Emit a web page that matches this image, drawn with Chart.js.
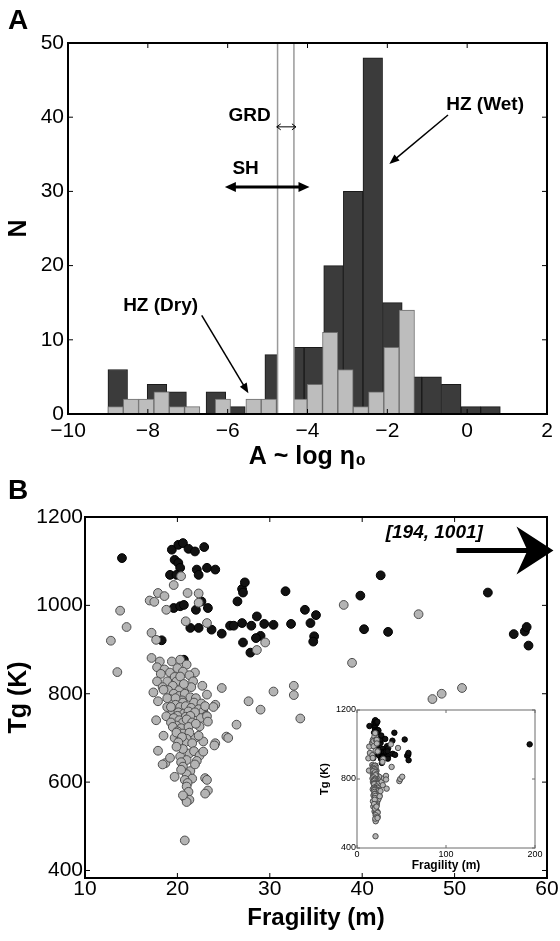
<!DOCTYPE html>
<html>
<head>
<meta charset="utf-8">
<script src="https://cdn.jsdelivr.net/npm/chart.js@4.4.1/dist/chart.umd.min.js"></script>
<style>
  html, body { margin: 0; padding: 0; background: #fff; }
  #page { position: relative; width: 560px; height: 941px; overflow: hidden; }
  .box { position: absolute; }
  .panel { position: absolute; font: bold 28px 'Liberation Sans', Arial, sans-serif; line-height: 1; }
</style>
</head>
<body>
<div id="page">
  <div class="box" style="left:0;top:0"><canvas id="histChart" width="560" height="470"></canvas></div>
  <div class="box" style="left:0;top:470px"><canvas id="scatterChart" width="560" height="471"></canvas></div>
  <div class="box" style="left:310px;top:700px"><canvas id="insetChart" width="235" height="175"></canvas></div>
  <div class="panel" style="left:8px;top:6px">A</div>
  <div class="panel" style="left:8px;top:476px">B</div>
</div>
<script>
const FONT = "'Liberation Sans', Arial, Helvetica, sans-serif";
Chart.defaults.font.family = FONT;
Chart.defaults.color = '#000';

// panel A: histograms of A ~ log eta0
const wetCenters = [-8.754, -8.262, -7.771, -7.279, -6.788, -6.296, -5.805, -5.313, -4.822, -4.331,
                    -3.839, -3.348, -2.856, -2.365, -1.873, -1.382, -0.890, -0.399, 0.093, 0.585];
const wetCounts = [6, 0, 4, 3, 0, 3, 1, 0, 8, 9, 9, 20, 30, 48, 15, 5, 5, 4, 1, 1];
const dryCenters = [-8.808, -8.424, -8.040, -7.656, -7.272, -6.888, -6.504, -6.120, -5.736, -5.352,
                    -4.968, -4.584, -4.200, -3.816, -3.432, -3.048, -2.664, -2.280, -1.896, -1.512];
const dryCounts = [1, 2, 2, 3, 1, 1, 0, 2, 0, 2, 2, 0, 2, 4, 11, 6, 1, 3, 9, 14];
const histXTicks = [-10, -8, -6, -4, -2, 0, 2];
const histYTicks = [0, 10, 20, 30, 40, 50];
const grdBand = [-4.75, -4.34];

// panel B: Tg against fragility
const grayPoints = [
  [12.8, 920], [13.5, 849], [13.8, 988], [14.5, 951],
  [17.0, 1011], [17.5, 1008], [17.9, 1028], [18.6, 1021], [18.8, 990], [19.6, 1046], [20.4, 1066],
  [21.1, 1028], [22.3, 1027], [22.3, 1006], [20.9, 964], [23.2, 960], [17.2, 938], [17.7, 922],
  [29.5, 916], [28.6, 899], [38.0, 1001], [46.1, 980], [38.9, 870],
  [17.2, 881], [18.1, 873], [19.4, 873], [20.3, 877], [21.0, 866], [21.9, 848],
  [17.8, 860], [18.6, 855], [19.2, 848], [20.0, 858], [20.6, 850], [21.3, 842], [19.7, 838], [18.2, 845],
  [17.8, 828], [18.9, 828], [19.9, 828], [20.3, 839], [21.7, 828], [22.7, 818], [24.8, 813], [18.4, 815],
  [19.5, 818], [20.8, 812], [21.5, 815], [19.0, 808], [20.2, 808], [20.7, 822],
  [17.4, 803], [18.5, 809], [23.2, 798], [19.6, 800], [20.2, 795], [20.8, 800], [21.4, 792], [22.0, 790],
  [19.2, 788], [20.5, 785], [21.8, 780], [17.9, 783], [18.9, 790], [19.8, 790], [20.6, 780], [22.6, 778],
  [24.1, 775], [19.8, 775], [20.3, 770], [20.9, 772], [21.5, 768], [22.3, 765], [19.4, 762], [20.1, 758],
  [20.7, 755], [21.2, 760], [18.9, 770], [22.8, 760], [23.1, 750], [22.5, 745], [23.0, 772], [23.9, 770],
  [19.3, 770], [21.9, 758], [20.0, 750], [20.9, 748], [21.4, 750],
  [17.7, 740], [18.8, 749], [23.2, 749], [23.3, 737], [22.4, 726], [19.6, 745], [20.2, 740], [20.6, 735],
  [21.0, 742], [21.6, 735], [19.9, 728], [20.4, 722], [21.2, 725], [22.0, 732], [19.3, 735], [19.5, 725],
  [18.5, 705], [25.3, 703], [24.1, 688], [22.8, 692], [21.9, 700], [20.0, 715], [20.6, 710], [21.3, 712],
  [19.7, 700], [20.3, 695], [21.0, 698], [22.3, 705], [20.8, 690], [21.6, 688], [19.9, 712], [20.5, 702],
  [20.1, 690],
  [17.9, 671], [18.7, 643], [18.4, 640], [20.3, 658], [21.3, 665], [21.8, 670], [22.4, 660], [22.8, 669],
  [24.0, 683], [20.6, 675], [19.9, 680], [21.0, 650], [22.1, 648], [20.4, 645], [19.2, 655],
  [20.6, 635], [19.7, 612], [23.0, 609], [21.4, 625], [21.0, 618], [21.6, 608], [20.8, 605], [21.1, 598],
  [20.4, 628], [21.9, 640], [23.2, 605],
  [23.3, 581], [21.0, 590], [21.2, 578], [20.8, 565], [21.3, 560], [21.0, 555], [20.6, 570], [23.0, 574],
  [20.8, 468],
  [25.5, 700], [26.4, 730], [27.7, 783], [29.0, 764], [30.4, 805], [32.6, 818], [32.6, 797], [33.3, 744],
  [47.6, 788], [48.6, 800], [50.8, 813]
];
const blackPoints = [
  [14.0, 1107],
  [19.4, 1126], [20.1, 1137], [20.6, 1141], [21.2, 1128], [21.9, 1122], [22.9, 1132],
  [19.7, 1103], [20.1, 1096], [20.3, 1085], [19.2, 1069], [19.9, 1069],
  [22.1, 1081], [23.2, 1085], [24.1, 1081], [22.3, 1069],
  [19.6, 994], [20.3, 998], [20.7, 1001], [22.6, 1009], [22.0, 990], [23.3, 994],
  [21.4, 949], [22.3, 949], [23.7, 945], [24.8, 936], [18.3, 921], [20.7, 877],
  [25.7, 954], [26.1, 954], [26.5, 1009], [27.0, 1037], [27.1, 1029], [27.3, 1052],
  [27.0, 960], [28.0, 954], [28.6, 975], [29.4, 958], [30.4, 956],
  [29.0, 931], [28.5, 926], [27.1, 916], [27.9, 893],
  [31.7, 1032], [32.3, 958], [33.8, 990], [35.0, 978], [34.4, 960], [34.8, 930], [34.7, 918],
  [39.8, 1022], [40.2, 946], [42.0, 1068], [42.8, 940],
  [53.6, 1029], [56.4, 935], [57.6, 941], [57.8, 951], [58.0, 909]
];
const outlierPoints = [[194, 1001]];
const fragTicks = [10, 20, 30, 40, 50, 60];
const tgTicks = [400, 600, 800, 1000, 1200];
const insetFragTicks = [0, 100, 200];
const insetTgTicks = [400, 800, 1200];

const toXY = (pts) => pts.map((p) => ({ x: p[0], y: p[1] }));
const setTicks = (list) => (scale) => { scale.ticks = list.map((v) => ({ value: v })); };
const plain = (v) => (v < 0 ? '\u2212' + Math.abs(v) : String(v));

// matlab style box with inward ticks
const matlabBox = {
  id: 'matlabBox',
  afterDraw(chart, args, opts) {
    const { ctx, chartArea: a } = chart;
    const xs = chart.scales.x, ys = chart.scales.y;
    ctx.save();
    ctx.strokeStyle = opts.color;
    ctx.lineWidth = 1;
    ctx.beginPath();
    xs.ticks.forEach((t) => {
      const p = xs.getPixelForValue(t.value);
      ctx.moveTo(p, a.bottom); ctx.lineTo(p, a.bottom - opts.tick);
      ctx.moveTo(p, a.top); ctx.lineTo(p, a.top + opts.tick);
    });
    ys.ticks.forEach((t) => {
      const p = ys.getPixelForValue(t.value);
      ctx.moveTo(a.left, p); ctx.lineTo(a.left + opts.tick, p);
      ctx.moveTo(a.right, p); ctx.lineTo(a.right - opts.tick, p);
    });
    ctx.stroke();
    ctx.lineWidth = opts.width;
    ctx.strokeRect(a.left, a.top, a.right - a.left, a.bottom - a.top);
    ctx.restore();
  }
};

function arrowHead(ctx, x, y, ang, len, half, open) {
  const bx = x - Math.cos(ang) * len, by = y - Math.sin(ang) * len;
  const px = -Math.sin(ang) * half, py = Math.cos(ang) * half;
  ctx.beginPath();
  ctx.moveTo(bx + px, by + py);
  ctx.lineTo(x, y);
  ctx.lineTo(bx - px, by - py);
  if (open) { ctx.stroke(); } else { ctx.closePath(); ctx.fill(); }
}

function drawArrow(ctx, x1, y1, x2, y2, o) {
  const ang = Math.atan2(y2 - y1, x2 - x1);
  const cut = o.open ? 0 : o.len * 0.6;
  ctx.lineWidth = o.width;
  ctx.beginPath();
  ctx.moveTo(x1 + (o.both ? Math.cos(ang) * cut : 0), y1 + (o.both ? Math.sin(ang) * cut : 0));
  ctx.lineTo(x2 - Math.cos(ang) * cut, y2 - Math.sin(ang) * cut);
  ctx.stroke();
  ctx.lineWidth = 1;
  arrowHead(ctx, x2, y2, ang, o.len, o.half, o.open);
  if (o.both) arrowHead(ctx, x1, y1, ang + Math.PI, o.len, o.half, o.open);
}

const histNotes = {
  id: 'histNotes',
  afterDatasetsDraw(chart) {
    const { ctx, chartArea: a } = chart;
    const xs = chart.scales.x;
    const l = xs.getPixelForValue(grdBand[0]), r = xs.getPixelForValue(grdBand[1]);
    ctx.save();
    ctx.fillStyle = '#fff';
    ctx.fillRect(l, a.top, r - l, a.bottom - a.top);
    ctx.strokeStyle = '#9a9a9a';
    ctx.lineWidth = 1.5;
    ctx.beginPath();
    ctx.moveTo(l, a.top); ctx.lineTo(l, a.bottom);
    ctx.moveTo(r, a.top); ctx.lineTo(r, a.bottom);
    ctx.stroke();
    ctx.restore();
  },
  afterDraw(chart) {
    const { ctx } = chart;
    const X = (v) => chart.scales.x.getPixelForValue(v);
    const Y = (v) => chart.scales.y.getPixelForValue(v);
    ctx.save();
    ctx.fillStyle = '#000';
    ctx.strokeStyle = '#000';
    ctx.font = 'bold 19px ' + FONT;
    ctx.textAlign = 'center';
    ctx.textBaseline = 'middle';
    ctx.fillText('GRD', X(-5.45), Y(40.2));
    ctx.fillText('SH', X(-5.55), Y(33.0));
    ctx.fillText('HZ (Wet)', X(0.45), Y(41.7));
    ctx.fillText('HZ (Dry)', X(-7.68), Y(14.6));
    drawArrow(ctx, X(-4.77), Y(38.7), X(-4.29), Y(38.7), { width: 1, len: 4, half: 3, both: true, open: true });
    drawArrow(ctx, X(-6.07), Y(30.6), X(-3.95), Y(30.6), { width: 3, len: 11, half: 5, both: true });
    drawArrow(ctx, X(-0.48), Y(40.3), X(-1.95), Y(33.7), { width: 1.5, len: 10, half: 4 });
    drawArrow(ctx, X(-6.65), Y(13.3), X(-5.48), Y(2.8), { width: 1.5, len: 10, half: 4 });
    ctx.restore();
  }
};

new Chart(document.getElementById('histChart'), {
  type: 'bar',
  data: {
    datasets: [
      {
        label: 'HZ (Dry)', xAxisID: 'x2', yAxisID: 'y', order: 0, grouped: false,
        data: dryCenters.map((c, i) => ({ x: c, y: dryCounts[i] })),
        backgroundColor: '#bdbdbd', borderColor: '#6e6e6e', borderWidth: 1,
        barPercentage: 1, categoryPercentage: 1
      },
      {
        label: 'HZ (Wet)', xAxisID: 'x', yAxisID: 'y', order: 1, grouped: false,
        data: wetCenters.map((c, i) => ({ x: c, y: wetCounts[i] })),
        backgroundColor: '#3b3b3b', borderColor: '#1a1a1a', borderWidth: 1,
        barPercentage: 1, categoryPercentage: 1
      }
    ]
  },
  options: {
    responsive: false,
    animation: false,
    layout: { padding: { top: 43, right: 13, left: 0, bottom: 0 } },
    plugins: {
      legend: { display: false },
      tooltip: { enabled: false },
      matlabBox: { color: '#000', width: 2, tick: 5 }
    },
    scales: {
      x: {
        type: 'linear', position: 'bottom', min: -10, max: 2, offset: false,
        afterBuildTicks: setTicks(histXTicks),
        afterFit: (s) => { s.height = 56; },
        grid: { display: false, drawTicks: false, offset: false },
        border: { display: false },
        ticks: { font: { size: 21, lineHeight: 1 }, padding: 7, maxRotation: 0, callback: plain },
        title: { display: true, text: 'A ~ log η₀', font: { size: 25, weight: 'bold', lineHeight: 1 }, padding: 0 }
      },
      x2: {
        type: 'linear', display: false, min: -10, max: 2, offset: false,
        grid: { offset: false }, afterBuildTicks: setTicks(histXTicks)
      },
      y: {
        type: 'linear', min: 0, max: 50,
        afterBuildTicks: setTicks(histYTicks),
        afterFit: (s) => { s.width = 68; },
        grid: { display: false, drawTicks: false },
        border: { display: false },
        ticks: { font: { size: 21 }, padding: 4, callback: plain },
        title: { display: true, text: 'N', font: { size: 25, weight: 'bold' }, padding: { top: 4 } }
      }
    }
  },
  plugins: [histNotes, matlabBox]
});

const scatterNotes = {
  id: 'scatterNotes',
  afterDraw(chart) {
    const { ctx } = chart;
    const X = (v) => chart.scales.x.getPixelForValue(v);
    const Y = (v) => chart.scales.y.getPixelForValue(v);
    ctx.save();
    ctx.fillStyle = '#000';
    ctx.strokeStyle = '#000';
    ctx.font = 'italic bold 19px ' + FONT;
    ctx.textAlign = 'center';
    ctx.textBaseline = 'middle';
    ctx.fillText('[194, 1001]', X(47.8), Y(1164));
    const tx = X(60.7), ty = Y(1124), sx = X(50.2);
    ctx.lineWidth = 5;
    ctx.beginPath();
    ctx.moveTo(sx, ty); ctx.lineTo(tx - 24, ty);
    ctx.stroke();
    ctx.beginPath();
    ctx.moveTo(tx, ty);
    ctx.lineTo(tx - 37, ty - 24);
    ctx.lineTo(tx - 26, ty);
    ctx.lineTo(tx - 37, ty + 24);
    ctx.closePath();
    ctx.fill();
    ctx.restore();
  }
};

const grayStyle = { backgroundColor: '#b4b4b4', borderColor: '#4d4d4d', borderWidth: 1 };
const blackStyle = { backgroundColor: '#121212', borderColor: '#000', borderWidth: 1 };

new Chart(document.getElementById('scatterChart'), {
  type: 'scatter',
  data: {
    datasets: [
      Object.assign({ label: 'gray', data: toXY(grayPoints), pointRadius: 4.4, order: 0 }, grayStyle),
      Object.assign({ label: 'black', data: toXY(blackPoints), pointRadius: 4.4, order: 1 }, blackStyle)
    ]
  },
  options: {
    responsive: false,
    animation: false,
    layout: { padding: { top: 47, right: 13, left: 0, bottom: 0 } },
    plugins: {
      legend: { display: false },
      tooltip: { enabled: false },
      matlabBox: { color: '#000', width: 2, tick: 5 }
    },
    scales: {
      x: {
        type: 'linear', min: 10, max: 60,
        afterBuildTicks: setTicks(fragTicks),
        afterFit: (s) => { s.height = 63; },
        grid: { display: false, drawTicks: false },
        border: { display: false },
        ticks: { font: { size: 21, lineHeight: 1 }, padding: 1, maxRotation: 0, callback: plain },
        title: { display: true, text: 'Fragility (m)', font: { size: 24, weight: 'bold' }, padding: { bottom: 8 } }
      },
      y: {
        type: 'linear', min: 383, max: 1200,
        afterBuildTicks: setTicks(tgTicks),
        afterFit: (s) => { s.width = 85; },
        grid: { display: false, drawTicks: false },
        border: { display: false },
        ticks: { font: { size: 21 }, padding: 2, callback: plain },
        title: { display: true, text: 'Tg (K)', font: { size: 25, weight: 'bold' }, padding: { top: 4 } }
      }
    }
  },
  plugins: [scatterNotes, matlabBox]
});

new Chart(document.getElementById('insetChart'), {
  type: 'scatter',
  data: {
    datasets: [
      Object.assign({ label: 'gray', data: toXY(grayPoints), pointRadius: 2.7, order: 0 }, grayStyle),
      Object.assign({ label: 'black', data: toXY(blackPoints.concat(outlierPoints)), pointRadius: 2.7, order: 1 }, blackStyle)
    ]
  },
  options: {
    responsive: false,
    animation: false,
    layout: { padding: { top: 10, right: 10, left: 0, bottom: 0 } },
    plugins: {
      legend: { display: false },
      tooltip: { enabled: false },
      matlabBox: { color: '#6a6a6a', width: 1, tick: 3 }
    },
    scales: {
      x: {
        type: 'linear', min: 0, max: 200,
        afterBuildTicks: setTicks(insetFragTicks),
        afterFit: (s) => { s.height = 27; },
        grid: { display: false, drawTicks: false },
        border: { display: false },
        ticks: { font: { size: 9, lineHeight: 1 }, padding: 2, maxRotation: 0, callback: plain },
        title: { display: true, text: 'Fragility (m)', font: { size: 12, weight: 'bold' }, padding: { bottom: 2 } }
      },
      y: {
        type: 'linear', min: 400, max: 1200,
        afterBuildTicks: setTicks(insetTgTicks),
        afterFit: (s) => { s.width = 47; },
        grid: { display: false, drawTicks: false },
        border: { display: false },
        ticks: { font: { size: 9 }, padding: 1, callback: plain },
        title: { display: true, text: 'Tg (K)', font: { size: 11, weight: 'bold' }, padding: { top: 8 } }
      }
    }
  },
  plugins: [matlabBox]
});
</script>
</body>
</html>
